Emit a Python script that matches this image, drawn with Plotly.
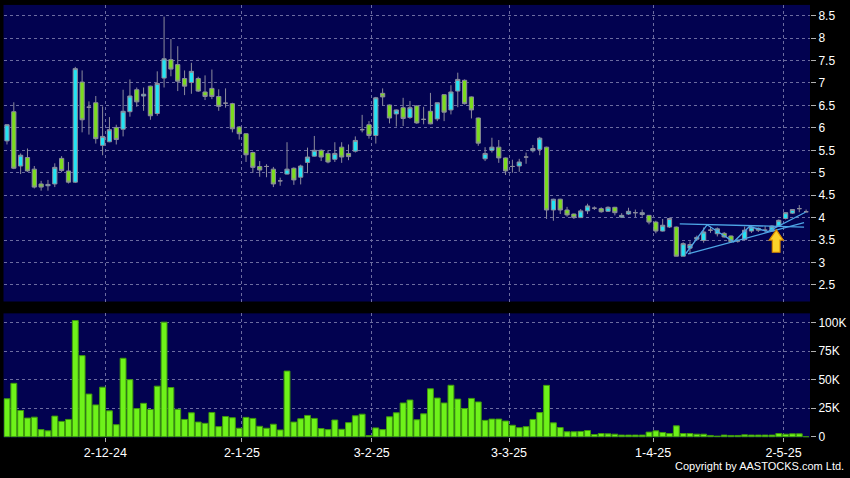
import plotly.graph_objects as go

# ---------------- data ----------------
opens = [5.71, 6.36, 5.15, 5.34, 5.08, 4.75, 4.71, 4.75, 5.32, 5.04,
         4.79, 7.02, 6.46, 6.56, 5.61, 5.69, 6.01, 5.97, 6.36, 6.85,
         6.71, 6.93, 6.32, 7.11, 7.52, 7.41, 7.10, 7.01, 7.10, 6.80,
         6.88, 6.70, 6.55, 6.54, 6.02, 5.87, 5.45, 5.14, 5.14, 5.08,
         4.82, 4.97, 5.10, 4.90, 5.23, 5.37, 5.50, 5.43, 5.30, 5.57,
         5.43, 5.48, 5.96, 6.07, 5.83, 6.77, 6.51, 6.31, 6.45, 6.23,
         6.49, 6.19, 6.37, 6.20, 6.74, 6.40, 6.82, 7.06, 6.69, 6.22,
         5.31, 5.50, 5.57, 5.33, 5.14, 5.15, 5.35, 5.49, 5.52, 5.57,
         4.17, 4.41, 4.17, 4.08, 4.00, 4.15, 4.21, 4.20, 4.14, 4.23,
         4.01, 4.08, 4.11, 4.07, 4.05, 3.90, 3.70, 3.79, 3.79, 3.14,
         3.32, 3.52, 3.49, 3.72, 3.64, 3.65, 3.59, 3.48, 3.51, 3.70,
         3.76, 3.72, 3.70, 3.81, 3.98, 4.10, 4.20, 4.13]
highs = [6.08, 6.57, 5.43, 5.54, 5.15, 4.82, 4.84, 5.21, 5.37, 5.24,
         7.36, 7.28, 6.59, 6.71, 6.48, 6.24, 6.07, 6.85, 7.08, 6.90,
         6.90, 6.94, 7.26, 8.48, 7.98, 7.82, 7.28, 7.45, 7.14, 7.17,
         7.30, 6.86, 6.88, 6.56, 6.04, 5.88, 5.47, 5.26, 5.19, 5.13,
         4.89, 5.68, 5.12, 5.18, 5.56, 5.82, 5.52, 5.50, 5.68, 5.68,
         5.63, 5.81, 6.29, 6.15, 6.69, 6.88, 6.52, 6.41, 6.67, 6.60,
         6.50, 6.47, 6.78, 6.56, 6.75, 6.95, 7.23, 7.08, 6.70, 6.23,
         5.57, 5.78, 5.73, 5.34, 5.29, 5.31, 5.45, 5.62, 5.80, 5.58,
         4.42, 4.42, 4.24, 4.09, 4.19, 4.31, 4.25, 4.23, 4.25, 4.24,
         4.10, 4.22, 4.18, 4.18, 4.06, 3.93, 3.97, 4.00, 3.80, 3.45,
         3.47, 3.60, 3.78, 3.80, 3.78, 3.68, 3.60, 3.52, 3.80, 3.83,
         3.78, 3.81, 3.83, 3.96, 4.12, 4.19, 4.28, 4.18]
lows = [5.63, 5.08, 4.97, 5.02, 4.65, 4.60, 4.60, 4.68, 5.01, 4.76,
        4.77, 5.90, 5.85, 5.65, 5.39, 5.68, 5.63, 5.81, 6.25, 6.47,
        6.38, 6.18, 6.27, 6.90, 7.15, 6.82, 6.73, 6.76, 6.80, 6.62,
        6.64, 6.38, 6.45, 5.90, 5.74, 5.24, 5.00, 4.91, 4.90, 4.68,
        4.71, 4.96, 4.73, 4.74, 4.99, 5.36, 5.26, 5.21, 5.24, 5.22,
        5.28, 5.45, 5.90, 5.76, 5.65, 6.49, 6.10, 6.03, 6.04, 6.20,
        6.09, 6.08, 6.08, 6.15, 6.15, 6.30, 6.46, 6.52, 6.21, 5.60,
        5.26, 5.45, 5.22, 4.95, 5.00, 5.02, 5.20, 5.45, 5.39, 3.97,
        3.93, 4.08, 4.02, 3.97, 3.99, 4.08, 4.17, 4.11, 4.13, 4.05,
        3.99, 4.06, 4.01, 4.02, 3.85, 3.65, 3.69, 3.77, 3.14, 3.14,
        3.18, 3.48, 3.44, 3.66, 3.58, 3.55, 3.44, 3.44, 3.49, 3.66,
        3.68, 3.66, 3.68, 3.80, 3.96, 4.08, 4.12, 4.12]
closes = [6.07, 5.10, 5.39, 5.04, 4.68, 4.68, 4.74, 5.12, 5.05, 4.79,
          7.32, 6.18, 6.46, 5.76, 5.81, 5.96, 5.74, 6.37, 6.71, 6.58,
          6.75, 6.27, 6.99, 7.54, 7.31, 7.04, 6.93, 7.26, 6.82, 6.70,
          6.70, 6.48, 6.55, 5.98, 5.87, 5.40, 5.12, 5.06, 5.14, 4.75,
          4.82, 5.08, 4.84, 5.15, 5.35, 5.50, 5.35, 5.24, 5.43, 5.35,
          5.36, 5.72, 5.96, 5.83, 6.67, 6.69, 6.22, 6.40, 6.21, 6.45,
          6.11, 6.19, 6.09, 6.56, 6.35, 6.80, 7.08, 6.54, 6.40, 5.66,
          5.43, 5.57, 5.33, 5.04, 5.14, 5.24, 5.35, 5.54, 5.77, 4.17,
          4.41, 4.17, 4.06, 4.00, 4.15, 4.26, 4.21, 4.13, 4.23, 4.11,
          4.05, 4.14, 4.11, 4.11, 3.90, 3.70, 3.83, 3.98, 3.14, 3.42,
          3.40, 3.56, 3.68, 3.72, 3.75, 3.57, 3.46, 3.48, 3.72, 3.79,
          3.72, 3.72, 3.81, 3.94, 4.11, 4.18, 4.20, 4.13]
volumes_k = [33.3, 46.8, 23.0, 16.4, 17.2, 6.3, 5.2, 18.1, 13.5, 15.2,
             101.7, 71.0, 37.4, 27.9, 43.4, 22.7, 10.6, 68.7, 50.0, 24.7,
             29.3, 23.9, 44.3, 100.3, 43.1, 24.1, 15.2, 21.0, 12.9, 11.8,
             21.3, 8.9, 17.8, 16.7, 7.5, 17.0, 16.1, 9.2, 7.5, 11.0,
             6.0, 57.5, 12.9, 15.8, 18.7, 16.1, 7.2, 6.3, 14.7, 6.6,
             12.4, 18.4, 19.8, 1.1, 7.8, 6.3, 17.5, 21.0, 29.6, 32.2,
             14.9, 20.1, 42.0, 33.9, 29.6, 45.1, 33.0, 24.7, 33.6, 30.5,
             14.4, 15.5, 15.5, 13.8, 10.1, 8.0, 8.9, 15.2, 21.2, 45.0,
             12.2, 8.1, 4.4, 4.4, 4.7, 5.5, 2.0, 2.9, 2.6, 2.3,
             1.5, 1.5, 1.5, 1.5, 4.1, 5.2, 3.8, 2.9, 9.6, 2.9,
             2.9, 2.3, 2.3, 1.2, 0.6, 1.5, 1.2, 1.2, 1.7, 1.5,
             1.5, 1.5, 1.5, 2.9, 2.3, 2.6, 2.6, 0.0]

date_tick_labels = ["2-12-24", "2-1-25", "3-2-25", "3-3-25", "1-4-25", "2-5-25"]
date_tick_pos = [14.4, 34.4, 53.4, 73.5, 94.6, 113.7]

price_ticks = [2.5, 3, 3.5, 4, 4.5, 5, 5.5, 6, 6.5, 7, 7.5, 8, 8.5]
price_tick_labels = ["2.5", "3", "3.5", "4", "4.5", "5", "5.5", "6", "6.5", "7", "7.5", "8", "8.5"]
vol_ticks = [0, 25, 50, 75, 100]
vol_tick_labels = ["0", "25K", "50K", "75K", "100K"]

# drawn pattern (triangle / zigzag) on the price chart
upper_line_x = [98.5, 116.7]
upper_line_y = [3.86, 3.79]
lower_line_x = [99.7, 116.7]
lower_line_y = [3.19, 3.89]
zigzag_x = [99.4, 102.5, 106.4, 108.7, 111.4, 116.9]
zigzag_y = [3.20, 3.84, 3.46, 3.80, 3.69, 4.12]
arrow_x = [112.05, 113.18, 111.6, 112.64, 113.66]  # shaft left, shaft right, head left, tip, head right
arrow_y = [3.228, 3.499, 3.728]                     # bottom, head base, tip

# ---------------- styling ----------------
W, H = 850, 478
BG = "#000000"
PANEL = "#020250"
GRID = "#6c6ca0"
UP = "#22e4f4"
DOWN = "#7bdc1e"
EDGE = "#8c8c9c"
VOL = "#6ef21a"
LINE = "#4ea6e6"
FONT = "Liberation Sans"

x = list(range(len(opens)))
xr = [-0.51, 117.57]

fig = go.Figure()
fig.add_trace(go.Candlestick(
    x=x, open=opens, high=highs, low=lows, close=closes,
    increasing=dict(fillcolor=UP, line=dict(color=EDGE, width=1)),
    decreasing=dict(fillcolor=DOWN, line=dict(color=EDGE, width=1)),
    whiskerwidth=0, xaxis="x", yaxis="y", showlegend=False, hoverinfo="skip"))

for lx, ly in [(upper_line_x, upper_line_y), (lower_line_x, lower_line_y), (zigzag_x, zigzag_y)]:
    fig.add_trace(go.Scatter(x=lx, y=ly, mode="lines", line=dict(color=LINE, width=1.3),
                             xaxis="x", yaxis="y", showlegend=False, hoverinfo="skip"))

fig.add_trace(go.Bar(
    x=x, y=volumes_k, marker=dict(color=VOL, line=dict(color="#3f9a0c", width=1)),
    xaxis="x2", yaxis="y2", showlegend=False, hoverinfo="skip"))

# arrow
sl, sr, hl, tip, hr = arrow_x
yb, yh, yt = arrow_y
path = (f"M {sl} {yb} L {sr} {yb} L {sr} {yh} L {hr} {yh} L {tip} {yt} "
        f"L {hl} {yh} L {sl} {yh} Z")
fig.add_shape(type="path", path=path, xref="x", yref="y",
              fillcolor="#fbd22a", line=dict(color="#d98a00", width=1.2))

grid_common = dict(showgrid=True, gridcolor=GRID, gridwidth=1, griddash="3px,3px",
                   zeroline=False, showline=False)

fig.update_layout(
    width=W, height=H,
    paper_bgcolor=BG, plot_bgcolor=PANEL,
    margin=dict(l=0, r=0, t=0, b=0),
    boxgap=0.12,
    bargap=0.14,
    font=dict(family=FONT, size=12, color="#ffffff"),
    xaxis=dict(domain=[3.5 / W, 810 / W], range=xr, tickvals=date_tick_pos,
               showticklabels=False, ticks="", rangeslider=dict(visible=False),
               anchor="y", **grid_common),
    yaxis=dict(domain=[1 - 306 / H, 1 - 5 / H], range=[2.13, 8.74], side="right",
               tickvals=price_ticks, ticktext=price_tick_labels,
               ticks="outside", ticklen=5, tickcolor="#b0b0b0",
               tickfont=dict(family=FONT, size=12, color="#ffffff"),
               anchor="x", **grid_common),
    xaxis2=dict(domain=[3.5 / W, 810 / W], range=xr, tickvals=date_tick_pos,
                ticktext=date_tick_labels, ticks="outside", ticklen=4,
                tickcolor="#b0b0b0", tickfont=dict(family=FONT, size=12.5, color="#ffffff"),
                anchor="y2", **grid_common),
    yaxis2=dict(domain=[1 - 444 / H, 1 - 318 / H], range=[-0.6, 108], side="right",
                tickvals=vol_ticks, ticktext=vol_tick_labels,
                ticks="outside", ticklen=5, tickcolor="#b0b0b0",
                tickfont=dict(family=FONT, size=12, color="#ffffff"),
                anchor="x2", **grid_common),
    annotations=[dict(text="Copyright by AASTOCKS.com Ltd.", xref="paper", yref="paper",
                      x=846 / W, y=1 - 472.5 / H, xanchor="right", yanchor="middle",
                      showarrow=False, font=dict(family=FONT, size=11, color="#ffffff"))],
)

fig.write_html("out.html", config={"displayModeBar": False},
               post_script="document.body.style.margin='0';document.body.style.padding='0';"
                           "document.documentElement.style.overflow='hidden';")
